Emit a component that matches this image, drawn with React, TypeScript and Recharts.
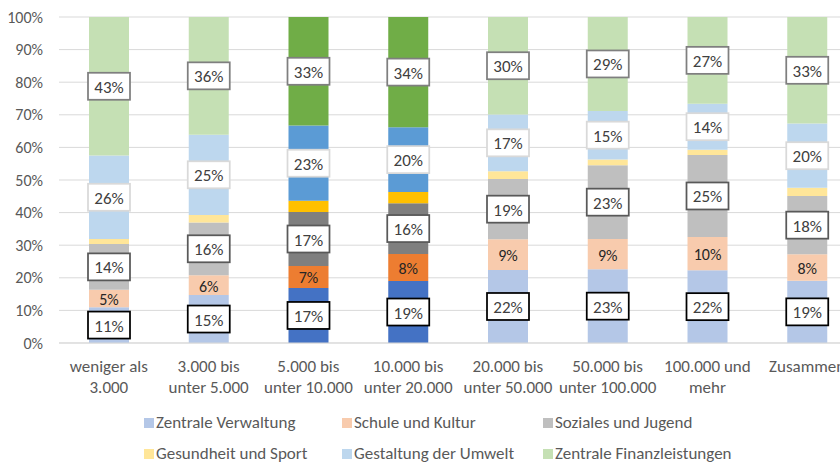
import { BarChart, Bar, XAxis, YAxis, CartesianGrid, Cell, LabelList } from "recharts"

const categories = [
  "weniger als\n3.000",
  "3.000 bis\nunter 5.000",
  "5.000 bis\nunter 10.000",
  "10.000 bis\nunter 20.000",
  "20.000 bis\nunter 50.000",
  "50.000 bis\nunter 100.000",
  "100.000 und\nmehr",
  "Zusammen",
]

// shares in percent, per category
const zentraleVerwaltung = [11.0, 14.7, 16.9, 19.0, 22.4, 22.6, 22.3, 19.1]
const schuleKultur = [5.3, 6.1, 6.7, 8.3, 9.4, 9.3, 10.2, 8.1]
const sozialesJugend = [14.1, 16.2, 16.6, 15.6, 18.5, 22.6, 25.2, 17.9]
const gesundheitSport = [1.5, 2.3, 3.4, 3.4, 2.4, 1.8, 1.6, 2.5]
const gestaltungUmwelt = [25.6, 24.6, 23.1, 19.9, 17.4, 14.9, 14.1, 19.7]
const zentraleFinanz = [42.5, 36.1, 33.3, 33.8, 29.9, 28.8, 26.6, 32.7]

const yTicks = [0, 10, 20, 30, 40, 50, 60, 70, 80, 90, 100]
const highlighted = [2, 3]

const FONT = "Carlito, Calibri, Lato, sans-serif"

const series = [
  { key: "zv", name: "Zentrale Verwaltung", values: zentraleVerwaltung, light: "#B4C7E7", dark: "#4472C4", box: "#000000", label: true },
  { key: "sk", name: "Schule und Kultur", values: schuleKultur, light: "#F8CBAD", dark: "#ED7D31", box: null, label: true },
  { key: "sj", name: "Soziales und Jugend", values: sozialesJugend, light: "#BFBFBF", dark: "#7F7F7F", box: "#595959", label: true },
  { key: "gs", name: "Gesundheit und Sport", values: gesundheitSport, light: "#FFE699", dark: "#FFC000", box: null, label: false },
  { key: "gu", name: "Gestaltung der Umwelt", values: gestaltungUmwelt, light: "#BDD7EE", dark: "#5B9BD5", box: "#D9D9D9", label: true },
  { key: "zf", name: "Zentrale Finanzleistungen", values: zentraleFinanz, light: "#C5E0B4", dark: "#70AD47", box: "#7F7F7F", label: true },
]

const data = categories.map((cat, i) => {
  const row: Record<string, string | number> = { cat }
  series.forEach((s) => { row[s.key] = s.values[i] })
  return row
})

function makeLabel(box: string | null) {
  return (props: any) => {
    const { x, y, width, height, value } = props
    const cx = x + width / 2
    const cy = y + height / 2
    return (
      <g>
        {box && (
          <rect x={cx - 21} y={cy - 13.5} width={42} height={27} fill="#fff" stroke={box} strokeWidth={1.75} />
        )}
        <text x={cx} y={cy + 1} textAnchor="middle" dominantBaseline="central"
          fontFamily={FONT} fontSize={box ? 17 : 16} fill={box ? "#404040" : "#262626"}>
          {Math.round(value)}%
        </text>
      </g>
    )
  }
}

function CatTick({ x, y, payload }: any) {
  const lines = String(payload.value).split("\n")
  return (
    <text x={x} y={y} textAnchor="middle" fontFamily={FONT} fontSize={17} fill="#595959">
      {lines.map((l, i) => (
        <tspan key={i} x={x} dy={21}>{l}</tspan>
      ))}
    </text>
  )
}

const legendCols = [144, 342, 543]
const legendRows = [423, 454]

export default function App() {
  return (
    <div style={{ position: "absolute", left: 0, top: 0, width: 840, height: 465, overflow: "hidden", background: "#fff" }}>
      <BarChart width={870} height={465} data={data} margin={{ top: 17, right: 13, left: 0, bottom: 0 }} barSize={40}>
        <CartesianGrid vertical={false} stroke="#D9D9D9" />
        <XAxis dataKey="cat" height={122} axisLine={{ stroke: "#D9D9D9" }} tickLine={false} tick={<CatTick />} interval={0} />
        <YAxis width={59} domain={[0, 100]} ticks={yTicks} tickFormatter={(v) => `${v}%`}
          axisLine={false} tickLine={false} tickMargin={10}
          tick={{ fontFamily: FONT, fontSize: 16, fill: "#595959" }} />
        {series.map((s) => (
          <Bar key={s.key} dataKey={s.key} name={s.name} stackId="a" isAnimationActive={false}>
            {data.map((_, i) => (
              <Cell key={i} fill={highlighted.includes(i) ? s.dark : s.light} />
            ))}
            {s.label && <LabelList dataKey={s.key} content={makeLabel(s.box)} />}
          </Bar>
        ))}
      </BarChart>
      {series.map((s, i) => {
        const left = legendCols[i % 3]
        const top = legendRows[Math.floor(i / 3)]
        return (
          <div key={s.key} style={{ position: "absolute", left, top: top - 10, height: 20, lineHeight: "20px", display: "flex", alignItems: "center", fontFamily: FONT, fontSize: 17, color: "#595959", whiteSpace: "nowrap" }}>
            <span style={{ display: "inline-block", width: 10, height: 10, background: s.light, marginRight: 2 }} />
            {s.name}
          </div>
        )
      })}
    </div>
  )
}
